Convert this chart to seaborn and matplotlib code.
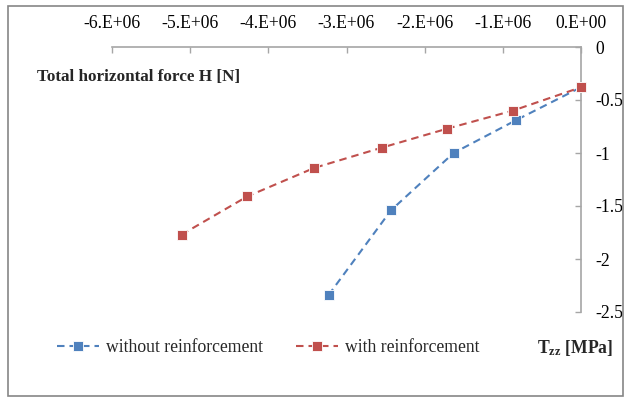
import numpy as np
import pandas as pd
import matplotlib
matplotlib.use("Agg")
import matplotlib.pyplot as plt
from matplotlib.patches import Rectangle
from matplotlib.lines import Line2D
import seaborn as sns

# ---- data ----
tzz_without = [-3.23e6, -2.43e6, -1.63e6, -0.83e6, 0.0]
h_without = [-2.34, -1.54, -1.00, -0.69, -0.38]
tzz_with = [-5.11e6, -4.27e6, -3.41e6, -2.55e6, -1.71e6, -0.87e6, 0.0]
h_with = [-1.77, -1.41, -1.14, -0.95, -0.77, -0.60, -0.38]
series_names = ["without reinforcement", "with reinforcement"]
x_ticks = [-6e6, -5e6, -4e6, -3e6, -2e6, -1e6, 0]
x_tick_labels = ["-6.E+06", "-5.E+06", "-4.E+06", "-3.E+06", "-2.E+06", "-1.E+06", "0.E+00"]
y_ticks = [0, -0.5, -1, -1.5, -2, -2.5]
y_tick_labels = ["0", "-0.5", "-1", "-1.5", "-2", "-2.5"]

df = pd.concat([
    pd.DataFrame({"Tzz": tzz_without, "H": h_without, "series": series_names[0]}),
    pd.DataFrame({"Tzz": tzz_with, "H": h_with, "series": series_names[1]}),
], ignore_index=True)

sns.set_theme(style="white")
plt.rcParams["font.family"] = ["Liberation Serif", "DejaVu Serif"]
plt.rcParams["mathtext.fontset"] = "custom"
plt.rcParams["mathtext.bf"] = "Liberation Serif:bold"
plt.rcParams["mathtext.rm"] = "Liberation Serif"

FS = 12.7
colors = {series_names[0]: "#4F81BD", series_names[1]: "#C0504D"}
axis_gray = "#A6A6A6"
dash = (3.6, 2.4)

fig = plt.figure(figsize=(6.24, 3.97), dpi=100)
fig.patch.set_facecolor("white")
ax = fig.add_axes([112 / 624, 1 - 312 / 397, (581 - 112) / 624, (312 - 47) / 397])

sns.lineplot(data=df, x="Tzz", y="H", hue="series", palette=colors,
             style="series", dashes={series_names[0]: dash, series_names[1]: dash},
             markers={series_names[0]: "s", series_names[1]: "s"},
             markersize=7, markeredgecolor="white", markeredgewidth=0.6,
             linewidth=1.5, sort=False, legend=False, ax=ax, estimator=None)
for ln in ax.lines:
    ln.set_clip_on(False)

ax.set_xlim(-6e6, 0)
ax.set_ylim(-2.5, 0)
ax.set_xlabel("")
ax.set_ylabel("")

for s in ["left", "bottom"]:
    ax.spines[s].set_visible(False)
for s in ["top", "right"]:
    ax.spines[s].set_visible(True)
    ax.spines[s].set_color(axis_gray)
    ax.spines[s].set_linewidth(1.2)
    ax.spines[s].set_zorder(0.5)

ax.xaxis.set_ticks_position("top")
ax.xaxis.set_label_position("top")
ax.yaxis.set_ticks_position("right")
ax.yaxis.set_label_position("right")
ax.set_xticks(x_ticks)
ax.set_xticklabels(x_tick_labels)
ax.set_yticks(y_ticks)
ax.set_yticklabels(y_tick_labels)
ax.tick_params(axis="x", direction="in", length=4, width=1, color=axis_gray,
               pad=11, labelsize=FS, labelcolor="black", top=True, bottom=False)
ax.tick_params(axis="y", direction="in", length=4, width=1, color=axis_gray,
               pad=10, labelsize=FS, labelcolor="black", right=True, left=False)
ax.grid(False)
ax.set_facecolor("none")

fig.text(37 / 624, 1 - 77 / 397, "Total horizontal force H [N]", fontsize=12.3,
         fontweight="bold", ha="left", va="center")
fig.text(537 / 624, 1 - 348 / 397, r"$\mathbf{T_{zz}}$ [MPa]", fontsize=FS,
         fontweight="bold", ha="left", va="center")

handles = [Line2D([], [], color=colors[n], linestyle=(0, dash), linewidth=1.5,
                  marker="s", markersize=7, markeredgecolor="white", markeredgewidth=0.6)
           for n in series_names]
fig.legend(handles, series_names, loc="center left", bbox_to_anchor=(57 / 624, 1 - 348 / 397),
           ncol=2, frameon=False, fontsize=FS, handlelength=2.4, handletextpad=0.4,
           columnspacing=1.85, borderaxespad=0, borderpad=0)

fig.add_artist(Rectangle((8 / 624, 1 - 396 / 397), (623 - 8) / 624, (396 - 6) / 397,
                         transform=fig.transFigure, fill=False, edgecolor="#868686",
                         linewidth=1.2))

fig.savefig("out.png", dpi=100, facecolor="white")
